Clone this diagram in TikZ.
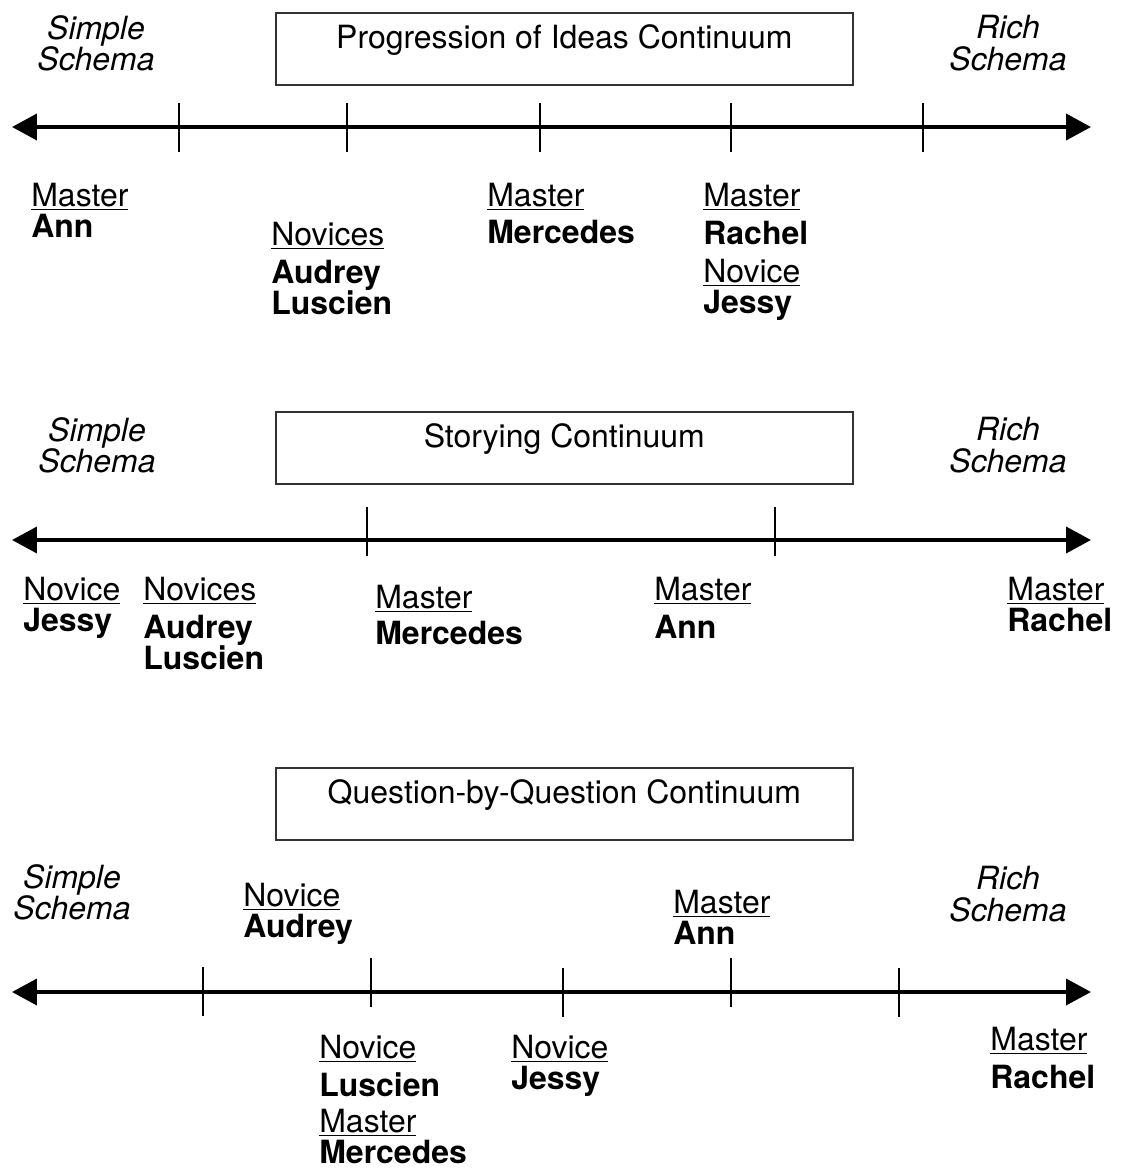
\documentclass[tikz,border=0pt]{standalone}
\usepackage{fontspec}
\setmainfont{TeX Gyre Heros}
\usepackage{tikz}
\usetikzlibrary{
    arrows.meta,
    positioning
}
\newsavebox\rolebox
\newcommand{\role}[1]{\sbox\rolebox{#1}\rlap{\rule[-2pt]{\wd\rolebox}{0.8pt}}\usebox\rolebox}
\tikzset{
    x=0.02cm, y=-0.02cm,
    every node/.style={inner sep=0pt, font=\fontsize{18.2}{17.6}\selectfont},
    axis/.style={line width=2.2pt, {Triangle[length=0.5cm,width=0.52cm]}-{Triangle[length=0.5cm,width=0.52cm]}},
    tick/.style={line width=0.75pt},
    frame/.style={draw=black!80, line width=1pt, anchor=north west, minimum width=11.54cm, minimum height=1.44cm},
    title/.style={below=7pt of #1.north},
    schema/.style={anchor=north, align=center, font=\fontsize{18.2}{18}\selectfont\itshape},
    who/.style={anchor=north west, align=left},
}

\begin{document}
\begin{tikzpicture}
    \useasboundingbox (0,0) rectangle (1121,1169);

    % progression of ideas
    \node[schema] (simple1) at (96,15) {Simple\\Schema};
    \node[schema] (rich1) at (1008,15) {Rich\\Schema};
    \node[frame] (box1) at (275,12) {};
    \node[title=box1] (title1) {Progression of Ideas Continuum};
    \coordinate (a1l) at (12,127);
    \coordinate (a1r) at (1091,127);
    \draw[axis] (a1l) -- (a1r);
    \foreach \x in {179,347,540,731,923}
        \draw[tick] (\x,103) -- (\x,152);
    \node[who] (ann1) at (31,183) {\role{Master}\\\textbf{Ann}};
    \node[who] (aud1) at (271,222) {\role{Novices}\\[4pt]\textbf{Audrey}\\\textbf{Luscien}};
    \node[who] (mer1) at (487,183) {\role{Master}\\[3.5pt]\textbf{Mercedes}};
    \node[who] (rac1) at (703,183) {\role{Master}\\[4pt]\textbf{Rachel}\\[4pt]\role{Novice}\\\textbf{Jessy}};

    % storying
    \node[schema] (simple2) at (97,417) {Simple\\Schema};
    \node[schema] (rich2) at (1008,417) {Rich\\Schema};
    \node[frame] (box2) at (275,411) {};
    \node[title=box2] (title2) {Storying Continuum};
    \coordinate (a2l) at (12,540);
    \coordinate (a2r) at (1091,540);
    \draw[axis] (a2l) -- (a2r);
    \foreach \x in {367,775}
        \draw[tick] (\x,507) -- (\x,556);
    \node[who] (jes2) at (23,577) {\role{Novice}\\\textbf{Jessy}};
    \node[who] (aud2) at (143,577) {\role{Novices}\\[4pt]\textbf{Audrey}\\\textbf{Luscien}};
    \node[who] (mer2) at (375,585) {\role{Master}\\[3pt]\textbf{Mercedes}};
    \node[who] (ann2) at (654,577) {\role{Master}\\[4pt]\textbf{Ann}};
    \node[who] (rac2) at (1007,577) {\role{Master}\\\textbf{Rachel}};

    % question by question
    \node[schema] (simple3) at (72,864) {Simple\\Schema};
    \node[schema] (rich3) at (1008,866) {Rich\\Schema};
    \node[frame] (box3) at (275,767) {};
    \node[title=box3] (title3) {Question-by-Question Continuum};
    \coordinate (a3l) at (12,992);
    \coordinate (a3r) at (1091,992);
    \draw[axis] (a3l) -- (a3r);
    \foreach \x/\t in {203/967,371/958,563/968,731/958,899/968}
        \draw[tick] (\x,\t) -- ++(0,49);
    \node[who] (aud3) at (243,883) {\role{Novice}\\\textbf{Audrey}};
    \node[who] (ann3) at (673,890) {\role{Master}\\\textbf{Ann}};
    \node[who] (lus3) at (319,1035) {\role{Novice}\\[4pt]\textbf{Luscien}\\[3pt]\role{Master}\\[0pt]\textbf{Mercedes}};
    \node[who] (jes3) at (511,1035) {\role{Novice}\\\textbf{Jessy}};
    \node[who] (rac3) at (990,1027) {\role{Master}\\[4pt]\textbf{Rachel}};
\end{tikzpicture}
\end{document}
